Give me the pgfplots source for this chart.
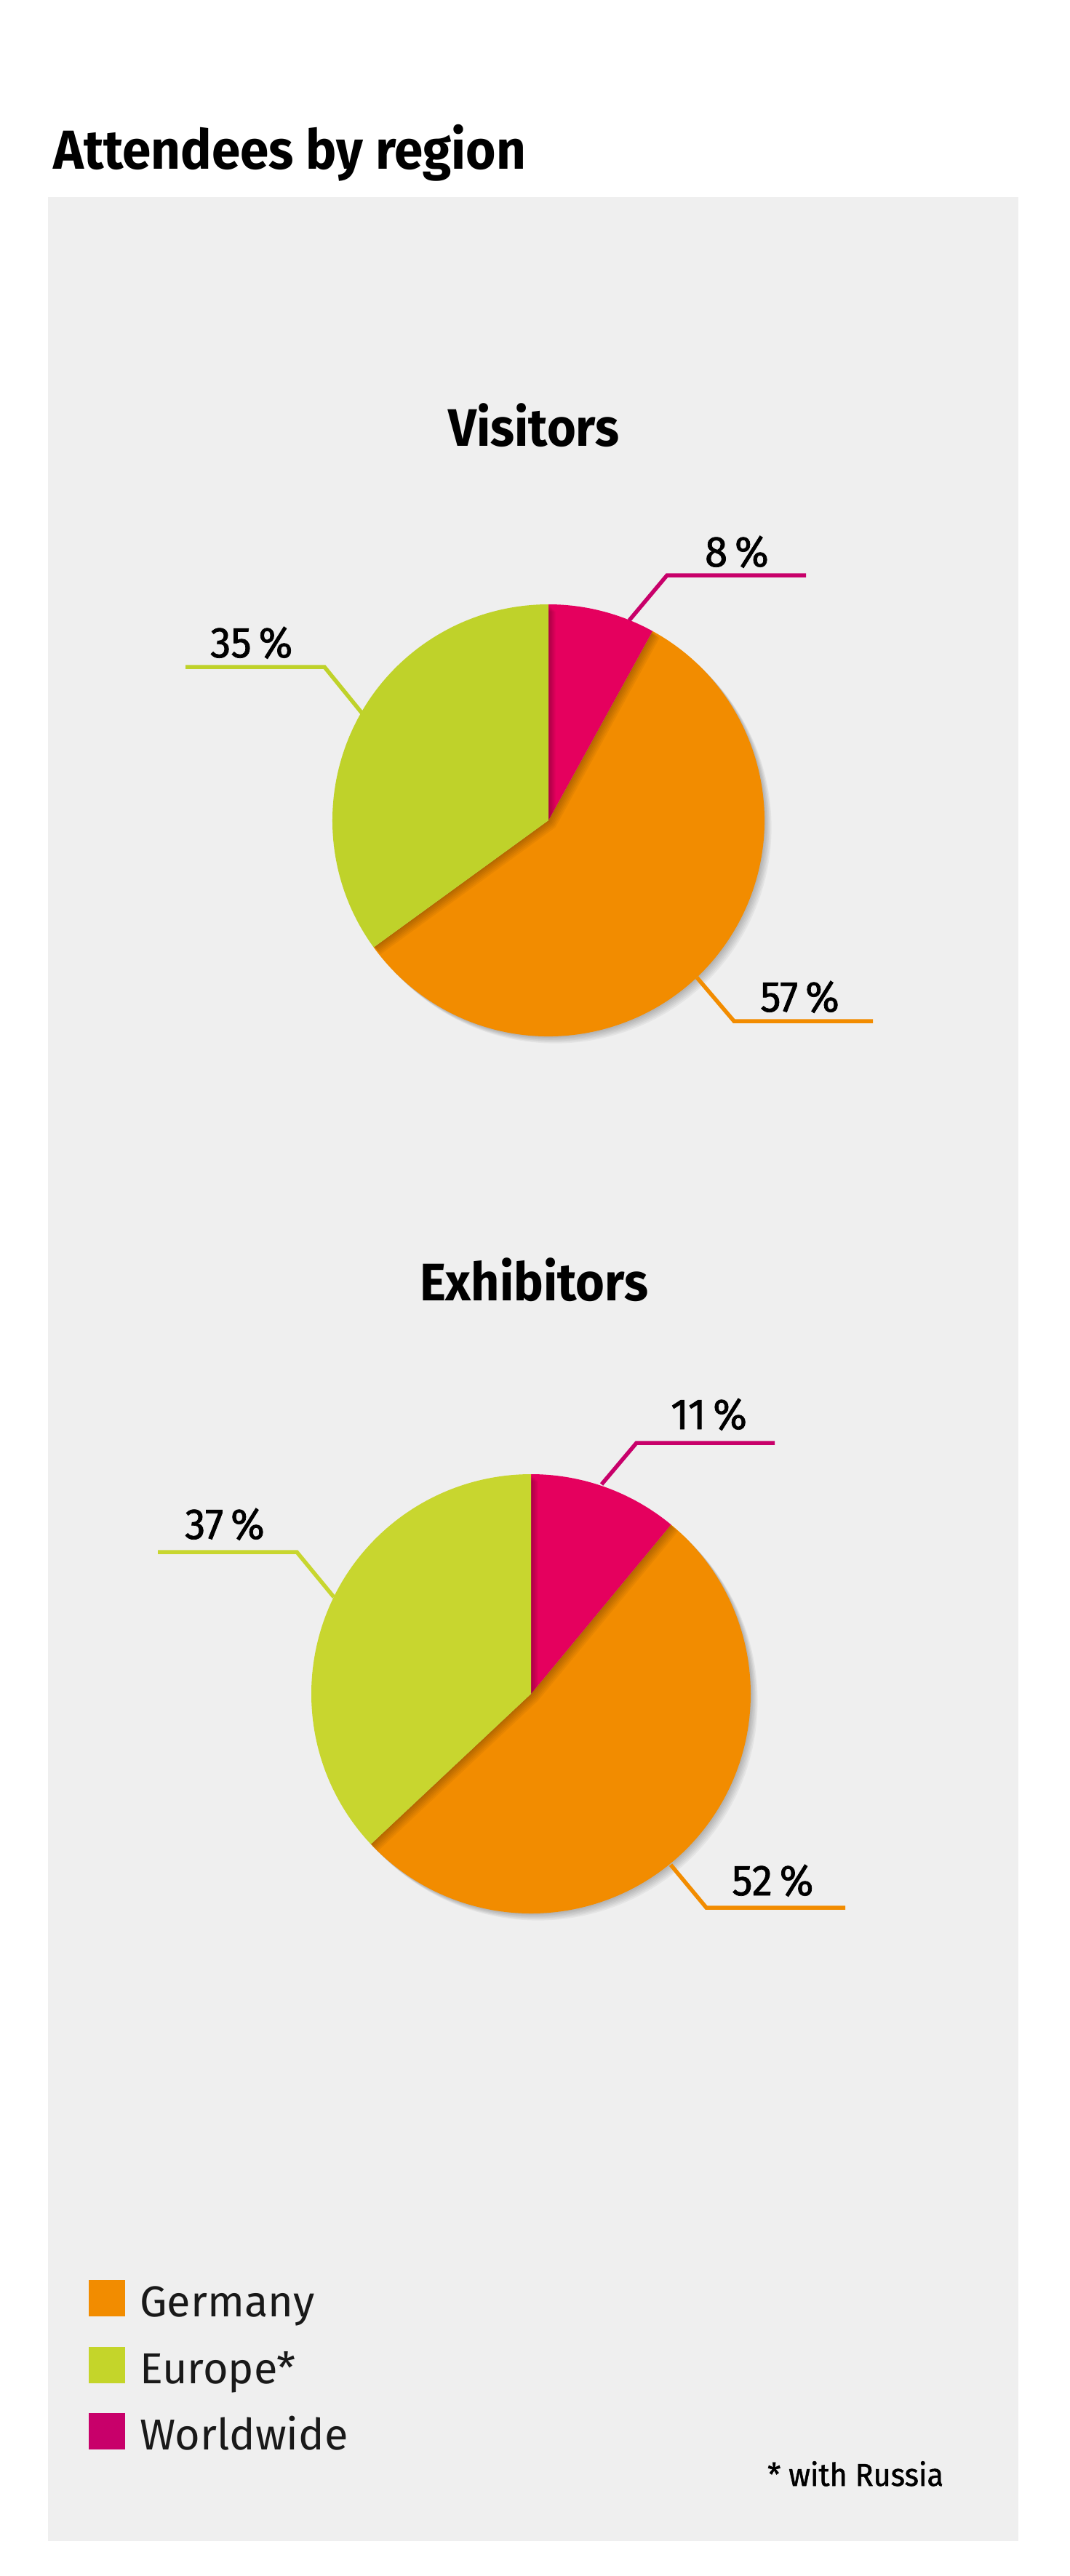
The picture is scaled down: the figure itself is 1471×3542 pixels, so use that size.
\documentclass[border=0pt]{standalone}
\usepackage{pgfplots}
\pgfplotsset{compat=1.18}
\usepackage{pgfplotstable}
\usepackage{fontspec}
\setmainfont{Fira Sans}
\newfontfamily\headfont{Fira Sans}[FakeStretch=0.94]
\newfontfamily\labelfont{Fira Sans}[FakeBold=1.2, FakeStretch=0.95]

\definecolor{panel}{HTML}{EFEFEF}
\definecolor{cGer}{HTML}{F28C00}
\definecolor{cWorld}{HTML}{E5005E}
\definecolor{cWorldLine}{HTML}{C8006A}
\definecolor{cEurV}{HTML}{BFD22A}
\definecolor{cEurE}{HTML}{C8D62F}
\definecolor{cEurLeg}{HTML}{C4D52A}

% shares in percent, clockwise from 12 o'clock
\pgfplotstableread{
region     share colour
Worldwide  8     cWorld
Germany    57    cGer
Europe     35    cEurV
}\visitors
\pgfplotstableread{
region     share colour
Worldwide  11    cWorld
Germany    52    cGer
Europe     37    cEurE
}\exhibitors

% #1 table, #2 radius, #3 order in which the slices are drawn
\newcommand\drawpie[3]{%
  \pgfplotstablegetrowsof{#1}%
  \pgfmathtruncatemacro\lastrow{\pgfplotsretval-1}%
  \def\angacc{90}%
  \pgfplotsforeachungrouped \i in {0,...,\lastrow}{%
    \pgfplotstablegetelem{\i}{share}\of{#1}%
    \pgfmathsetmacro\angnext{\angacc-3.6*\pgfplotsretval}%
    \expandafter\let\csname pieS\i\endcsname\angacc
    \expandafter\let\csname pieE\i\endcsname\angnext
    \pgfplotstablegetelem{\i}{colour}\of{#1}%
    \expandafter\let\csname pieC\i\endcsname\pgfplotsretval
    \let\angacc\angnext
  }%
  \pgfplotsforeachungrouped \i in {#3}{%
    \edef\s{\csname pieS\i\endcsname}%
    \edef\e{\csname pieE\i\endcsname}%
    \edef\c{\csname pieC\i\endcsname}%
    \pgfplotsforeachungrouped \k in {1,...,6}{%
      \pgfmathsetmacro\off{1.6*\k}%
      \edef\temp{\noexpand\fill[black,opacity=0.045]
        ([xshift=\off bp,yshift=-\off bp]axis cs:0,0) -- ++(\s:#2)
        arc[start angle=\s,end angle=\e,radius=#2] -- cycle;}%
      \temp
    }%
    \edef\temp{\noexpand\fill[\c] (axis cs:0,0) -- ++(\s:#2)
      arc[start angle=\s,end angle=\e,radius=#2] -- cycle;}%
    \temp
  }%
}

\pgfplotsset{pie/.style={width=594bp, height=594bp, scale only axis,
  xmin=-1, xmax=1, ymin=-1, ymax=1, hide axis, clip=false, anchor=center}}

\begin{document}
\begin{tikzpicture}[x=1bp, y=-1bp, line join=miter]
\fill[white] (0,0) rectangle (1471,3542);
\fill[panel] (66,271) rectangle (1400,3494);
\coordinate (pieV) at (754,1128);
\coordinate (pieE) at (730,2329);

\node[anchor=base west, inner sep=0] at (73,232)
  {\fontsize{75.5bp}{80bp}\headfont\bfseries Attendees by region};

% Visitors
\node[anchor=base, inner sep=0] at (734,613)
  {\fontsize{72.6bp}{78bp}\headfont\bfseries Visitors};
\begin{axis}[pie, at={(pieV)}]
  \drawpie{\visitors}{297bp}{1,0,2}
\end{axis}
\draw[cWorldLine, line width=5.5bp] (865,853) -- (917,791) -- (1108,791);
\draw[cEurV, line width=5.5bp] (498,981) -- (446,917) -- (255,917);
\draw[cGer, line width=5.5bp] (958,1344) -- (1009,1404) -- (1200,1404);
\begin{scope}[every node/.style={inner sep=0, font=\fontsize{59.5bp}{64bp}\labelfont}]
  \node[anchor=base east] at (1057,779) {8\,\%};
  \node[anchor=base west] at (289,904) {35\,\%};
  \node[anchor=base west] at (1045,1391) {57\,\%};
\end{scope}

% Exhibitors
\node[anchor=base, inner sep=0] at (734,1788)
  {\fontsize{72.6bp}{78bp}\headfont\bfseries Exhibitors};
\begin{axis}[pie, width=604bp, height=604bp, at={(pieE)}]
  \drawpie{\exhibitors}{302bp}{1,0,2}
\end{axis}
\draw[cWorldLine, line width=5.5bp] (827,2041) -- (875,1984) -- (1065,1984);
\draw[cEurE, line width=5.5bp] (459,2196) -- (408,2134) -- (217,2134);
\draw[cGer, line width=5.5bp] (922,2564) -- (971,2623) -- (1162,2623);
\begin{scope}[every node/.style={inner sep=0, font=\fontsize{59.5bp}{64bp}\labelfont}]
  \node[anchor=base west] at (922,1965) {11\,\%};
  \node[anchor=base west] at (254,2116) {37\,\%};
  \node[anchor=base west] at (1006,2606) {52\,\%};
\end{scope}

% legend
\fill[cGer] (122,3135) rectangle (172,3185);
\fill[cEurLeg] (122,3227) rectangle (172,3277);
\fill[cWorldLine] (122,3318) rectangle (172,3368);
\begin{scope}[every node/.style={inner sep=0, anchor=base west,
    text=black!90, font=\fontsize{59.5bp}{64bp}\selectfont}]
  \node at (192,3185) {Germany};
  \node at (192,3277) {Europe*};
  \node at (192,3368) {Worldwide};
\end{scope}
\node[inner sep=0, anchor=base west] at (1055,3418)
  {\fontsize{43.5bp}{48bp}\labelfont * with Russia};
\end{tikzpicture}
\end{document}
